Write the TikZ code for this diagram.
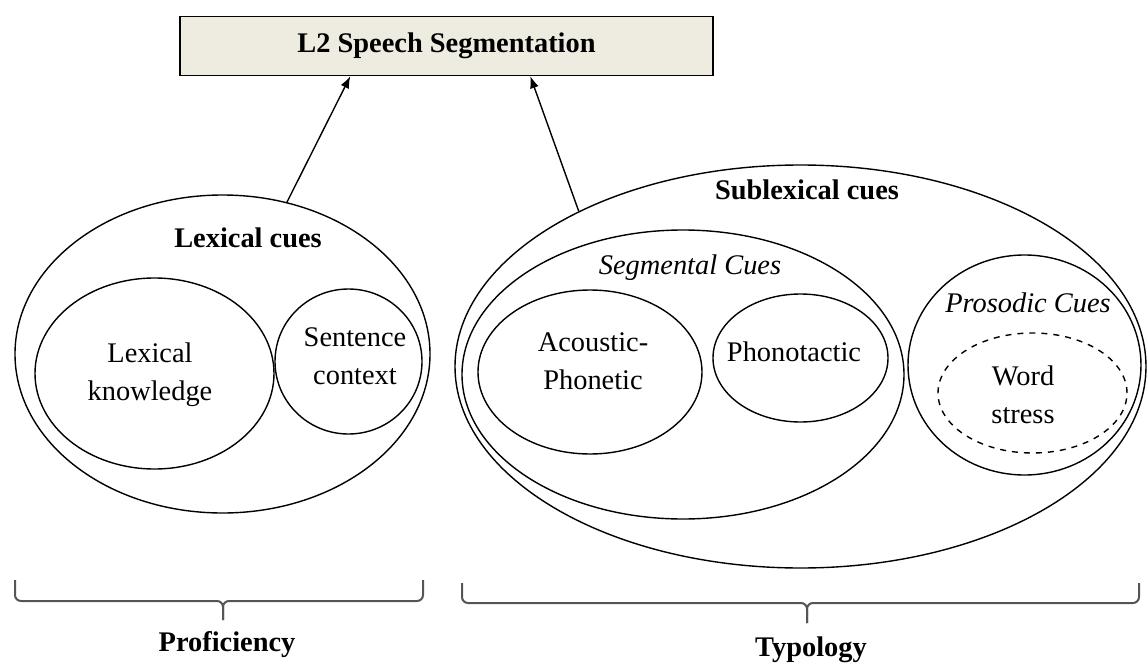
\documentclass[tikz,border=0pt]{standalone}
\usepackage{fontspec}
\setmainfont{Liberation Serif}
\usetikzlibrary{shapes.geometric,arrows.meta}
\definecolor{boxfill}{RGB}{238,236,225}
\definecolor{bracecol}{RGB}{85,85,85}
\begin{document}
\begin{tikzpicture}[x=0.5pt,y=-0.5pt,
  bub/.style={ellipse, draw, line width=0.7pt, inner sep=0pt},
  lbl/.style={font=\fontsize{14.2}{19}\selectfont, inner sep=0pt, align=center},
  bold/.style={lbl, font=\fontsize{14.2}{19}\selectfont\bfseries},
  ital/.style={lbl, font=\fontsize{14.2}{19}\selectfont\itshape},
  arr/.style={-{Latex[length=6pt,width=4.5pt]}, line width=0.7pt},
  bracestyle/.style={draw=bracecol, line width=1pt, rounded corners=3pt}]
\useasboundingbox (0,0) rectangle (1147,664);

% title box
\node[draw, fill=boxfill, line width=0.7pt, minimum width=266.5pt, minimum height=29.5pt, inner sep=0pt]
  (box) at (446.5,46) {};
\node[bold] (title) at (box.center) {L2 Speech Segmentation};

% lexical side
\node[bub, minimum width=207.5pt, minimum height=159pt] (lex) at (222.5,354) {};
\node[bub, minimum width=119.5pt, minimum height=95.5pt] (lk) at (154.5,373.5) {};
\node[bub, minimum width=73.5pt, minimum height=72.5pt] (sc) at (348.5,361.5) {};
\node[bold] (lexlbl) at (248,238) {Lexical cues};
\node[lbl] (lktxt) at (150,375) {Lexical\\knowledge};
\node[lbl] (sctxt) at (355,356) {Sentence\\context};

% sublexical side
\node[bub, minimum width=345.5pt, minimum height=201.5pt] (sub) at (800.5,366.5) {};
\node[bub, minimum width=221pt, minimum height=144.5pt] (seg) at (683,374.5) {};
\node[bub, minimum width=112pt, minimum height=82pt] (ap) at (590,372) {};
\node[bub, minimum width=87.5pt, minimum height=64pt] (ph) at (800.5,358) {};
\node[bub, minimum width=116.5pt, minimum height=110pt] (pr) at (1024.5,365) {};
\node[bub, dashed, minimum width=94.5pt, minimum height=60pt] (ws) at (1032.5,393) {};
\node[bold] (sublbl) at (807,190) {Sublexical cues};
\node[ital] (seglbl) at (690,268) {Segmental Cues};
\node[ital] (prlbl) at (1028,303) {Prosodic Cues};
\node[lbl] (aptxt) at (593,361) {Acoustic-\\Phonetic};
\node[lbl] (phtxt) at (794,352) {Phonotactic};
\node[lbl] (wstxt) at (1023,395) {Word\\stress};

% arrows
\draw[arr] (lex.67) -- ([xshift=85.5pt]box.south west);
\draw[arr] (sub.145) -- ([xshift=175.5pt]box.south west);

% braces
\draw[bracestyle] (15,580) |- (223,601) -- (223,620);
\draw[bracestyle] (423,580) |- (223,601) -- (223,620);
\draw[bracestyle] (462,583) |- (807,603) -- (807,623);
\draw[bracestyle] (1139,583) |- (807,603) -- (807,623);

\node[bold] (prof) at (227,645) {Proficiency};
\node[bold] (typ) at (811,650) {Typology};
\end{tikzpicture}
\end{document}
